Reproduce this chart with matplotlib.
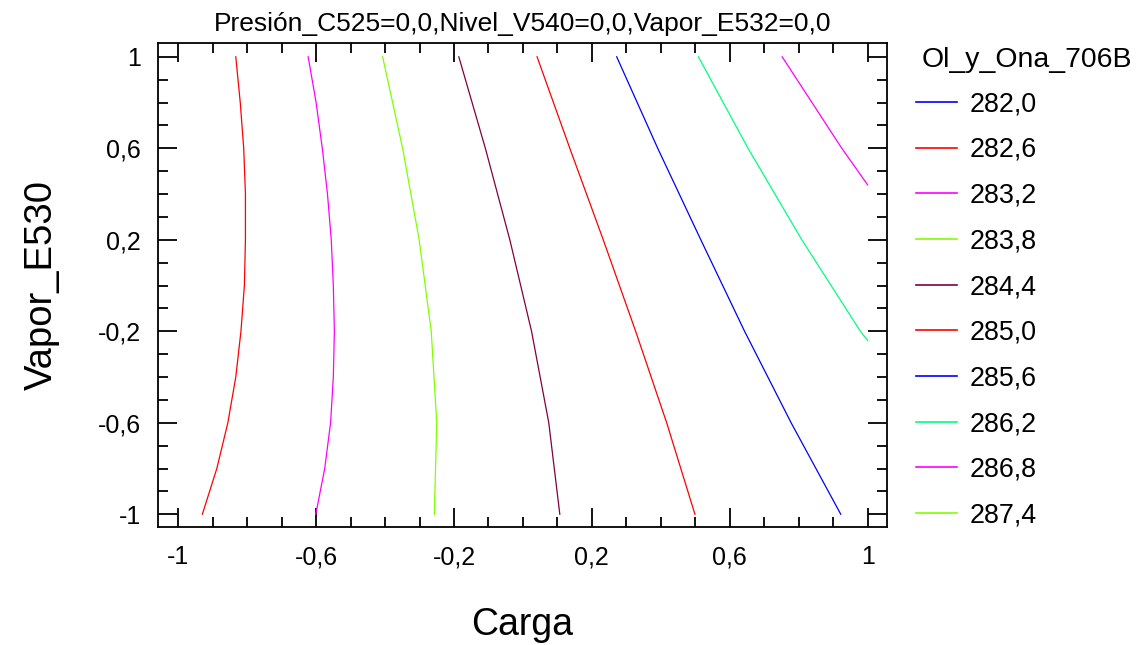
import matplotlib
matplotlib.use("Agg")
import matplotlib.pyplot as plt
from matplotlib.lines import Line2D
from matplotlib.ticker import MultipleLocator, FuncFormatter

plt.rcParams['font.family'] = ['Liberation Sans', 'DejaVu Sans']

# contour levels and colours shown in the legend
levels = [282.0, 282.6, 283.2, 283.8, 284.4, 285.0, 285.6, 286.2, 286.8, 287.4]
level_colors = ['#0000ff', '#ff0000', '#ff00ff', '#80ff00', '#800040',
                '#ff0000', '#0000ff', '#00ff80', '#ff00ff', '#80ff00']

# contour lines (Carga = x, Vapor_E530 = y)
y_full = [1.0, 0.8, 0.6, 0.4, 0.2, 0.0, -0.2, -0.4, -0.6, -0.8, -1.0]
x_2826 = [-0.833, -0.820, -0.810, -0.805, -0.805, -0.808, -0.818, -0.833, -0.856, -0.888, -0.930]
x_2832 = [-0.623, -0.600, -0.582, -0.567, -0.556, -0.550, -0.547, -0.550, -0.558, -0.575, -0.601]

y_six = [1.0, 0.6, 0.2, -0.2, -0.6, -1.0]
x_2838 = [-0.407, -0.349, -0.301, -0.266, -0.250, -0.257]
x_2844 = [-0.186, -0.109, -0.038, 0.025, 0.075, 0.107]
x_2850 = [0.041, 0.136, 0.233, 0.327, 0.417, 0.499]
x_2856 = [0.272, 0.391, 0.516, 0.643, 0.778, 0.922]

x_2862 = [0.509, 0.653, 0.809, 0.979, 1.0]
y_2862 = [1.0, 0.6, 0.2, -0.2, -0.24]
x_2868 = [0.752, 0.925, 1.0]
y_2868 = [1.0, 0.6, 0.44]

fig = plt.figure(figsize=(11.44, 6.45), dpi=100)
ax = fig.add_axes([0.1377, 0.1825, 0.6379, 0.7504])

lw = 0.9
ax.plot(x_2826, y_full, color=level_colors[1], lw=lw)
ax.plot(x_2832, y_full, color=level_colors[2], lw=lw)
ax.plot(x_2838, y_six, color=level_colors[3], lw=lw)
ax.plot(x_2844, y_six, color=level_colors[4], lw=lw)
ax.plot(x_2850, y_six, color=level_colors[5], lw=lw)
ax.plot(x_2856, y_six, color=level_colors[6], lw=lw)
ax.plot(x_2862, y_2862, color=level_colors[7], lw=lw)
ax.plot(x_2868, y_2868, color=level_colors[8], lw=lw)

ax.set_xlim(-1.06, 1.057)
ax.set_ylim(-1.057, 1.059)

comma = FuncFormatter(lambda v, p: ('%g' % round(v, 2)).replace('.', ','))
ax.set_xticks([-1, -0.6, -0.2, 0.2, 0.6, 1])
ax.set_yticks([-1, -0.6, -0.2, 0.2, 0.6, 1])
ax.xaxis.set_minor_locator(MultipleLocator(0.1))
ax.yaxis.set_minor_locator(MultipleLocator(0.1))
ax.xaxis.set_major_formatter(comma)
ax.yaxis.set_major_formatter(comma)
ax.tick_params(which='both', direction='in', top=True, right=True, width=1.3, labelsize=18)
ax.tick_params(which='major', length=14)
ax.tick_params(axis='x', which='major', pad=13)
ax.tick_params(axis='y', which='major', pad=12)
ax.tick_params(which='minor', length=7)
for s in ax.spines.values():
    s.set_linewidth(1.3)

ax.set_xlabel('Carga', fontsize=27, labelpad=27)
ax.set_ylabel('Vapor_E530', fontsize=27.5, labelpad=27)
ax.set_title('Presión_C525=0,0,Nivel_V540=0,0,Vapor_E532=0,0', fontsize=19, pad=9)

# legend: title placed separately so the gap matches
fig.text(922 / 1144, 1 - 60 / 645, 'Ol_y_Ona_706B', fontsize=20.4, ha='left', va='center')
handles = [Line2D([], [], color=c, lw=1.2) for c in level_colors]
labels = [('%.1f' % v).replace('.', ',') for v in levels]
leg = ax.legend(handles, labels, loc='upper left', bbox_to_anchor=(1.0245, 0.923),
                frameon=False, fontsize=19.4,
                handlelength=1.52, handletextpad=0.48, labelspacing=0.73,
                borderaxespad=0)

fig.savefig('out.png', dpi=100)
